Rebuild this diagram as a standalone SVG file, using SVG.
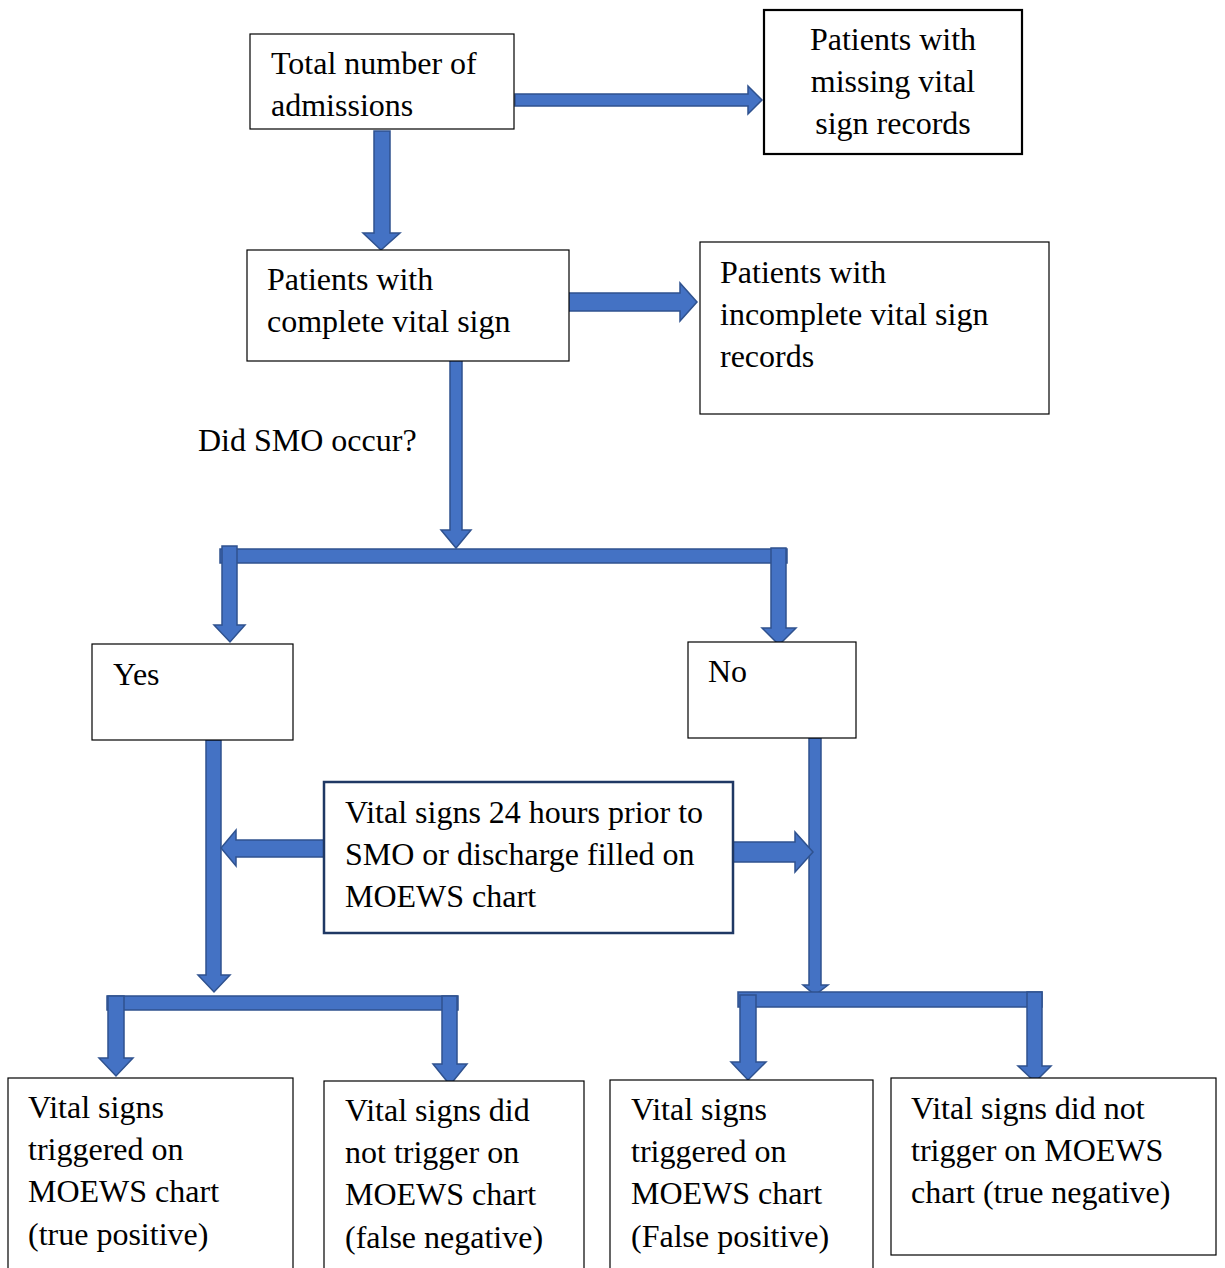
<svg xmlns="http://www.w3.org/2000/svg" width="1225" height="1268" viewBox="0 0 1225 1268">
<style>
.box{fill:#fff;stroke:#000;stroke-width:1.2}
.t{font-family:"Liberation Serif","Times New Roman",serif;font-size:32px;fill:#000}
.arr{fill:#4472C4;stroke:#2F528F;stroke-width:1.5;stroke-linejoin:miter}
</style>
<rect width="1225" height="1268" fill="#fff"/>
<g id="connectors">
<polygon class="arr" points="515,94 748,94 748,86 762,100 748,114 748,106 515,106"/>
<polygon class="arr" points="374,131 390,131 390,233 400,233 381,250 363,233 374,233"/>
<polygon class="arr" points="568,293 680,293 680,283 697,302 680,321 680,311 568,311"/>
<polygon class="arr" points="450,357 462,357 462,530 471,530 456,548 441,530 450,530"/>
<rect class="arr" x="220" y="549" width="567" height="14"/>
<polygon class="arr" points="222,546 237,546 237,625 245,625 230,642 214,625 222,625"/>
<polygon class="arr" points="771,548 786,548 786,628 796,628 779,645 762,628 771,628"/>
<polygon class="arr" points="206,740 221,740 221,975 230,975 214,992 198,975 206,975"/>
<rect class="arr" x="107" y="996" width="351" height="14"/>
<polygon class="arr" points="108,996 124,996 124,1058 133,1058 116,1076 99,1058 108,1058"/>
<polygon class="arr" points="442,996 457,996 457,1064 467,1064 450,1085 433,1064 442,1064"/>
<polygon class="arr" points="809,738 821,738 821,985 828,985 815,995 803,985 809,985"/>
<rect class="arr" x="738" y="992" width="304" height="15"/>
<polygon class="arr" points="740,995 756,995 756,1062 766,1062 748,1080 731,1062 740,1062"/>
<polygon class="arr" points="1027,992 1042,992 1042,1066 1051,1066 1035,1082 1018,1066 1027,1066"/>
<polygon class="arr" points="324,840 236,840 236,830 221,848 236,866 236,857 324,857"/>
<polygon class="arr" points="733,842 795,842 795,832 813,852 795,872 795,862 733,862"/>
</g>
<g id="n-total">
<rect class="box" x="250" y="34" width="264" height="95"/>
<text class="t" x="271" y="74">Total number of</text>
<text class="t" x="271" y="116">admissions</text>
</g>
<g id="n-missing">
<rect class="box" x="764" y="10" width="258" height="144" style="stroke-width:2.2"/>
<text class="t" x="893" y="50" text-anchor="middle">Patients with</text>
<text class="t" x="893" y="92" text-anchor="middle">missing vital</text>
<text class="t" x="893" y="134" text-anchor="middle">sign records</text>
</g>
<g id="n-complete">
<rect class="box" x="247" y="250" width="322" height="111"/>
<text class="t" x="267" y="290">Patients with</text>
<text class="t" x="267" y="332">complete vital sign</text>
</g>
<g id="n-incomplete">
<rect class="box" x="700" y="242" width="349" height="172"/>
<text class="t" x="720" y="283">Patients with</text>
<text class="t" x="720" y="325">incomplete vital sign</text>
<text class="t" x="720" y="367">records</text>
</g>
<g id="n-question">
<text class="t" x="198" y="451">Did SMO occur?</text>
</g>
<g id="n-yes">
<rect class="box" x="92" y="644" width="201" height="96"/>
<text class="t" x="113" y="685">Yes</text>
</g>
<g id="n-no">
<rect class="box" x="688" y="642" width="168" height="96"/>
<text class="t" x="708" y="682">No</text>
</g>
<g id="n-vital24">
<rect class="box" x="324" y="782" width="409" height="151" style="stroke:#1F3864;stroke-width:2.5"/>
<text class="t" x="345" y="823">Vital signs 24 hours prior to</text>
<text class="t" x="345" y="865">SMO or discharge filled on</text>
<text class="t" x="345" y="907">MOEWS chart</text>
</g>
<g id="n-tp">
<rect class="box" x="8" y="1078" width="285" height="200"/>
<text class="t" x="28" y="1118">Vital signs</text>
<text class="t" x="28" y="1160">triggered on</text>
<text class="t" x="28" y="1202">MOEWS chart</text>
<text class="t" x="28" y="1245">(true positive)</text>
</g>
<g id="n-fn">
<rect class="box" x="324" y="1081" width="260" height="200"/>
<text class="t" x="345" y="1121">Vital signs did</text>
<text class="t" x="345" y="1163">not trigger on</text>
<text class="t" x="345" y="1205">MOEWS chart</text>
<text class="t" x="345" y="1248">(false negative)</text>
</g>
<g id="n-fp">
<rect class="box" x="610" y="1080" width="263" height="200"/>
<text class="t" x="631" y="1120">Vital signs</text>
<text class="t" x="631" y="1162">triggered on</text>
<text class="t" x="631" y="1204">MOEWS chart</text>
<text class="t" x="631" y="1247">(False positive)</text>
</g>
<g id="n-tn">
<rect class="box" x="891" y="1078" width="325" height="177"/>
<text class="t" x="911" y="1119">Vital signs did not</text>
<text class="t" x="911" y="1161">trigger on MOEWS</text>
<text class="t" x="911" y="1203">chart (true negative)</text>
</g>
</svg>
